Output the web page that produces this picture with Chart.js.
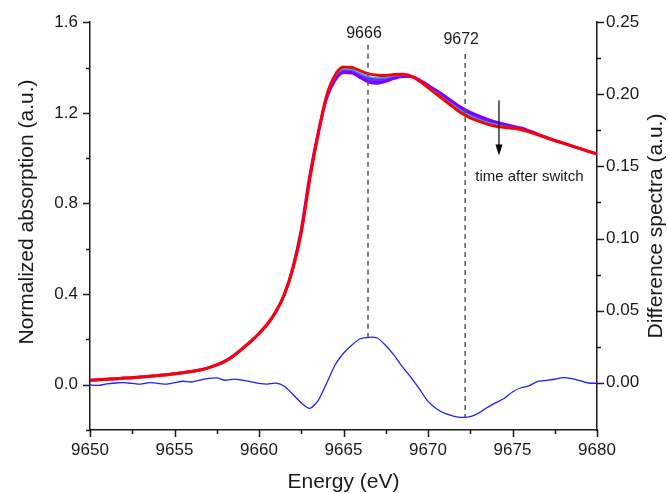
<!DOCTYPE html>
<html>
<head>
<meta charset="utf-8">
<script src="https://cdn.jsdelivr.net/npm/chart.js@4.4.1/dist/chart.umd.min.js"></script>
<style>
  html, body { margin: 0; padding: 0; background: #fff; }
  #wrap { width: 668px; height: 493px; position: relative; }
</style>
</head>
<body>
<div id="wrap"><canvas id="myChart"></canvas></div>
<script>
// energy grid (eV)
const energy = [
  9650, 9650.5, 9651, 9651.5, 9652, 9652.5, 9653, 9653.5, 9654, 9654.5,
  9655, 9655.5, 9656, 9656.5, 9657, 9657.5, 9658, 9658.5, 9659, 9659.5,
  9660, 9660.5, 9661, 9661.5, 9662, 9662.5, 9663, 9663.5, 9664, 9664.5,
  9665, 9665.5, 9666, 9666.5, 9667, 9667.5, 9668, 9668.5, 9669, 9669.5,
  9670, 9670.5, 9671, 9671.5, 9672, 9672.5, 9673, 9673.5, 9674, 9674.5,
  9675, 9675.5, 9676, 9676.5, 9677, 9677.5, 9678, 9678.5, 9679, 9679.5,
  9680
];

// last spectrum (red)
const specLast = [
  0.020, 0.022, 0.024, 0.026, 0.029, 0.031, 0.034, 0.037, 0.040, 0.044,
  0.048, 0.053, 0.058, 0.065, 0.074, 0.087, 0.104, 0.128, 0.158, 0.190,
  0.226, 0.268, 0.322, 0.398, 0.510, 0.670, 0.905, 1.105, 1.275, 1.366,
  1.402, 1.400, 1.385, 1.372, 1.366, 1.365, 1.369, 1.370, 1.362, 1.340,
  1.312, 1.283, 1.254, 1.225, 1.198, 1.178, 1.163, 1.150, 1.141, 1.136,
  1.132, 1.126, 1.115, 1.103, 1.090, 1.078, 1.066, 1.054, 1.042, 1.030,
  1.018
];

// intermediate spectrum (cyan)
const specMid = [
  0.020, 0.022, 0.024, 0.026, 0.029, 0.031, 0.034, 0.037, 0.040, 0.044,
  0.048, 0.053, 0.058, 0.065, 0.074, 0.087, 0.104, 0.128, 0.158, 0.190,
  0.226, 0.268, 0.322, 0.398, 0.512, 0.676, 0.911, 1.107, 1.271, 1.358,
  1.393, 1.391, 1.374, 1.359, 1.354, 1.356, 1.363, 1.366, 1.361, 1.342,
  1.316, 1.289, 1.261, 1.233, 1.207, 1.187, 1.171, 1.158, 1.148, 1.141,
  1.135, 1.128, 1.116, 1.104, 1.090, 1.078, 1.066, 1.054, 1.042, 1.030,
  1.018
];

// first spectrum (purple)
const specFirst = [
  0.020, 0.022, 0.024, 0.026, 0.029, 0.031, 0.034, 0.037, 0.040, 0.044,
  0.048, 0.053, 0.058, 0.065, 0.074, 0.087, 0.104, 0.128, 0.158, 0.190,
  0.226, 0.268, 0.322, 0.398, 0.516, 0.684, 0.920, 1.111, 1.264, 1.344,
  1.378, 1.376, 1.355, 1.336, 1.331, 1.339, 1.352, 1.360, 1.360, 1.345,
  1.322, 1.298, 1.273, 1.247, 1.222, 1.202, 1.186, 1.172, 1.160, 1.150,
  1.141, 1.133, 1.120, 1.106, 1.091, 1.078, 1.066, 1.054, 1.042, 1.030,
  1.018
];

// difference spectrum (right axis)
const diffSpec = [
  -0.0016, -0.0019, -0.0008, -0.0002, 0.0000, -0.0005, -0.0010, 0.0000, -0.0004, -0.0010,
  0.0000, 0.0010, 0.0005, 0.0018, 0.0030, 0.0033, 0.0017, 0.0025, 0.0018, 0.0008,
  -0.0005, -0.0010, -0.0003, -0.0025, -0.0080, -0.0140, -0.0178, -0.0125, -0.0004, 0.0123,
  0.0204, 0.0262, 0.0305, 0.0315, 0.0310, 0.0258, 0.0190, 0.0108, 0.0035, -0.0045,
  -0.0130, -0.0180, -0.0213, -0.0231, -0.0240, -0.0235, -0.0211, -0.0172, -0.0140, -0.0110,
  -0.0064, -0.0035, -0.0021, 0.0010, 0.0016, 0.0024, 0.0035, 0.0029, 0.0014, -0.0002,
  -0.0004
];

// marker lines
const markE = [9666.45, 9672.2];
const markText = ['9666', '9672'];
const markTop = [1.50, 1.46];        // left axis
const markBottom = [0.0315, -0.0243]; // right axis
const markTextY = [1.55, 1.525];

// arrow + note
const arrowE = 9674.2;
const arrowFrom = 1.256;
const arrowTo = 1.012;
const noteText = 'time after switch';
const noteE = 9676.0;
const noteY = 0.917;

const FONT = "Arial, 'Liberation Sans', sans-serif";
const INK = '#1a1a1a';

function pts(ys) {
  return energy.map((e, i) => ({ x: e, y: ys[i] }));
}
function isStep(v, s) {
  const q = v / s;
  return Math.abs(q - Math.round(q)) < 1e-6;
}

// ticks, marker lines, arrow, titles
const extras = {
  id: 'extras',
  afterDatasetsDraw(chart) {
    const ctx = chart.ctx;
    const sx = chart.scales.x, sy = chart.scales.y, s2 = chart.scales.y2;
    ctx.save();
    ctx.strokeStyle = '#555';
    ctx.lineWidth = 1.5;
    ctx.setLineDash([5, 4]);
    markE.forEach((e, i) => {
      const px = sx.getPixelForValue(e);
      ctx.beginPath();
      ctx.moveTo(px, sy.getPixelForValue(markTop[i]));
      ctx.lineTo(px, s2.getPixelForValue(markBottom[i]));
      ctx.stroke();
    });
    ctx.setLineDash([]);
    ctx.fillStyle = INK;
    ctx.font = '16px ' + FONT;
    ctx.textAlign = 'center';
    ctx.textBaseline = 'middle';
    markE.forEach((e, i) => {
      ctx.fillText(markText[i], sx.getPixelForValue(e) - 4, sy.getPixelForValue(markTextY[i]));
    });

    // arrow
    const ax = sx.getPixelForValue(arrowE);
    const ay0 = sy.getPixelForValue(arrowFrom);
    const ay1 = sy.getPixelForValue(arrowTo);
    ctx.strokeStyle = '#000';
    ctx.fillStyle = '#000';
    ctx.lineWidth = 1.2;
    ctx.beginPath();
    ctx.moveTo(ax, ay0);
    ctx.lineTo(ax, ay1 - 8);
    ctx.stroke();
    ctx.beginPath();
    ctx.moveTo(ax - 3.5, ay1 - 11);
    ctx.lineTo(ax + 3.5, ay1 - 11);
    ctx.lineTo(ax, ay1);
    ctx.closePath();
    ctx.fill();

    ctx.fillStyle = INK;
    ctx.font = '15px ' + FONT;
    ctx.fillText(noteText, sx.getPixelForValue(noteE), sy.getPixelForValue(noteY));
    ctx.restore();
  },
  afterDraw(chart) {
    const ctx = chart.ctx;
    const a = chart.chartArea;
    const sx = chart.scales.x, sy = chart.scales.y, s2 = chart.scales.y2;
    ctx.save();
    ctx.strokeStyle = INK;
    ctx.lineWidth = 1.5;
    ctx.beginPath();
    sx.ticks.forEach(t => {
      if (!isStep(t.value, 2.5)) return;
      const px = Math.round(sx.getPixelForValue(t.value)) + 0.5;
      ctx.moveTo(px, a.bottom);
      ctx.lineTo(px, a.bottom + (isStep(t.value, 5) ? 7 : 4));
    });
    sy.ticks.forEach(t => {
      if (!isStep(t.value, 0.2)) return;
      const py = Math.round(sy.getPixelForValue(t.value)) + 0.5;
      ctx.moveTo(a.left, py);
      ctx.lineTo(a.left - (isStep(t.value, 0.4) ? 7 : 4), py);
    });
    s2.ticks.forEach(t => {
      if (!isStep(t.value, 0.025)) return;
      const py = Math.round(s2.getPixelForValue(t.value)) + 0.5;
      ctx.moveTo(a.right, py);
      ctx.lineTo(a.right + (isStep(t.value, 0.05) ? 7 : 4), py);
    });
    ctx.stroke();

    // axis titles
    ctx.fillStyle = INK;
    ctx.font = '21px ' + FONT;
    ctx.textAlign = 'center';
    ctx.textBaseline = 'middle';
    ctx.fillText('Energy (eV)', (a.left + a.right) / 2, 482);
    ctx.save();
    ctx.translate(27, 212);
    ctx.rotate(-Math.PI / 2);
    ctx.fillText('Normalized absorption (a.u.)', 0, 0);
    ctx.restore();
    ctx.save();
    ctx.translate(656, 226);
    ctx.rotate(-Math.PI / 2);
    ctx.fillText('Difference spectra (a.u.)', 0, 0);
    ctx.restore();
    ctx.restore();
  }
};

const tickFont = { family: FONT, size: 17 };
const axisBorder = { display: true, color: INK, width: 1.5 };

const config = {
  type: 'line',
  data: {
    datasets: [{
      label: 'last',
      data: pts(specLast),
      borderColor: '#ff0000',
      borderWidth: 3,
      pointRadius: 0,
      cubicInterpolationMode: 'monotone',
      yAxisID: 'y',
      order: 0
    }, {
      label: 'mid',
      data: pts(specMid),
      borderColor: '#00c0ff',
      borderWidth: 1.5,
      pointRadius: 0,
      cubicInterpolationMode: 'monotone',
      yAxisID: 'y',
      order: 1
    }, {
      label: 'first',
      data: pts(specFirst),
      borderColor: '#8000ff',
      backgroundColor: '#7a20ff',
      fill: 1,
      borderWidth: 3,
      pointRadius: 0,
      cubicInterpolationMode: 'monotone',
      yAxisID: 'y',
      order: 2
    }, {
      label: 'difference',
      data: pts(diffSpec),
      borderColor: '#1f1fff',
      borderWidth: 1.3,
      pointRadius: 0,
      tension: 0.2,
      yAxisID: 'y2',
      order: 3
    }]
  },
  options: {
    responsive: true,
    maintainAspectRatio: false,
    animation: false,
    layout: { padding: { top: 22, left: 0, right: 0, bottom: 0 } },
    plugins: { legend: { display: false }, tooltip: { enabled: false } },
    scales: {
      x: {
        type: 'linear',
        min: 9650,
        max: 9680,
        grid: { display: false, drawTicks: false },
        border: axisBorder,
        ticks: {
          stepSize: 2.5,
          autoSkip: false,
          maxRotation: 0,
          padding: 10,
          color: INK,
          font: tickFont,
          callback: v => isStep(v, 5) ? String(v) : ''
        },
        afterFit: s => { s.height = 63; }
      },
      y: {
        position: 'left',
        min: -0.2,
        max: 1.6,
        grid: { display: false, drawTicks: false },
        border: axisBorder,
        ticks: {
          stepSize: 0.2,
          autoSkip: false,
          padding: 12,
          color: INK,
          font: tickFont,
          callback: v => isStep(v, 0.4) ? v.toFixed(1) : ''
        },
        afterFit: s => { s.width = 90; }
      },
      y2: {
        position: 'right',
        min: -0.0328,
        max: 0.25,
        grid: { display: false, drawTicks: false },
        border: axisBorder,
        ticks: {
          stepSize: 0.025,
          autoSkip: false,
          padding: 9,
          color: INK,
          font: tickFont,
          callback: v => isStep(v, 0.05) ? v.toFixed(2) : ''
        },
        afterFit: s => { s.width = 71; }
      }
    }
  },
  plugins: [extras]
};

var myChart = new Chart(document.getElementById('myChart'), config);
</script>
</body>
</html>
